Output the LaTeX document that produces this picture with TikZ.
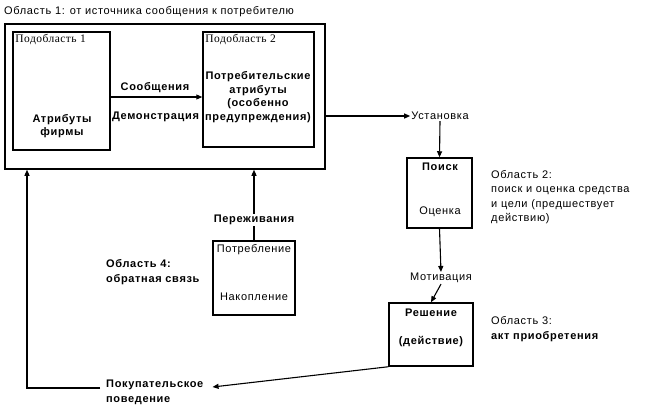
\documentclass[tikz,border=0pt]{standalone}
\usepackage{fontspec}
\setmainfont[LetterSpace=6]{Liberation Sans}
\newfontfamily\serifcyr[LetterSpace=4]{Liberation Serif}
\usetikzlibrary{arrows.meta}

\begin{document}
\begin{tikzpicture}[x=1pt,y=-1pt,>={Triangle[length=6pt,width=5pt]},
    box/.style={draw,line width=1.5pt,inner sep=0pt},
    lbl/.style={font=\fontsize{11}{13.5}\selectfont,align=center,inner sep=1pt},
    bl/.style={lbl,font=\fontsize{11}{13.5}\selectfont\bfseries},
    sub/.style={lbl,anchor=north west,inner sep=3pt,font=\fontsize{11.5}{12}\serifcyr}]
      \useasboundingbox (0,0) rectangle (660,408);
      % boxes
      \node[box,minimum width=320pt,minimum height=145pt] (area1) at (165,96.5) {};
      \node[box,minimum width=97pt,minimum height=118pt] (sub1) at (61.5,91) {};
      \node[box,minimum width=111pt,minimum height=115pt] (sub2) at (258.5,89.5) {};
      \node[box,minimum width=65pt,minimum height=70pt] (search) at (439.5,193) {};
      \node[box,minimum width=84pt,minimum height=63pt] (decide) at (431,334.5) {};
      \node[box,minimum width=82pt,minimum height=74pt] (consume) at (254,278) {};
      % texts
      \node[lbl,anchor=west] (title) at (3,12) {Область 1: от источника сообщения к потребителю};
      \node[sub] (sub1name) at (sub1.north west) {Подобласть 1};
      \node[sub] (sub2name) at (sub2.north west) {Подобласть 2};
      \node[bl] (firm) at (62,126) {Атрибуты\\фирмы};
      \node[bl] (attr) at (258,97) {Потребительские\\атрибуты\\(особенно\\предупреждения)};
      \node[bl] (msg) at (155,88) {Сообщения};
      \node[bl] (demo) at (155.5,117) {Демонстрация};
      \node[lbl] (attitude) at (440,116) {Установка};
      \node[bl] (find) at (440,167) {Поиск};
      \node[lbl] (rate) at (440,212) {Оценка};
      \node[lbl,anchor=west,align=left,font=\fontsize{11}{14.5}\selectfont] (area2) at (490,197)
        {Область 2:\\поиск и оценка средства\\и цели (предшествует\\действию)};
      \node[lbl] (motive) at (441,278) {Мотивация};
      \node[bl] (solution) at (431,313) {Решение};
      \node[bl] (act) at (431,342) {(действие)};
      \node[lbl,anchor=west,align=left,font=\fontsize{11}{15}\selectfont] (area3) at (490,329.5)
        {Область 3:\\\textbf{акт приобретения}};
      \node[lbl] (use) at (254,250) {Потребление};
      \node[lbl] (store) at (254,297) {Накопление};
      \node[bl,anchor=west,align=left,font=\fontsize{11}{15}\selectfont\bfseries] (area4) at (105,272) {Область 4:\\обратная связь};
      \node[bl,anchor=west,align=left,font=\fontsize{11}{15}\selectfont\bfseries] (buy) at (105,392) {Покупательское\\поведение};
      % connectors
      \coordinate (m) at (155,97);
      \coordinate (fb) at (27,388);
      \draw[->,line width=1.1pt] (sub1.east |- m) -- (sub2.west |- m);
      \draw[->,line width=1.1pt] (area1.east |- attitude) -- (attitude.west);
      \draw[->,line width=1.1pt] (attitude.south) -- (search.north);
      \draw[->,line width=1.1pt] (search.south) -- (motive.north);
      \draw[->,line width=1.1pt] (motive.south) -- (decide.north);
      \draw[->,line width=1.1pt] (decide.south west) -- ([xshift=8pt,yshift=5pt]buy.east);
      \draw[->,line width=1.1pt] ([xshift=-5pt]buy.west |- fb) -- (fb) -- (fb |- area1.south);
      \draw[->,line width=1.1pt] (consume.north) -- node[bl,fill=white,pos=0.29] (feel) {Переживания} (consume.north |- area1.south);
\end{tikzpicture}
\end{document}
